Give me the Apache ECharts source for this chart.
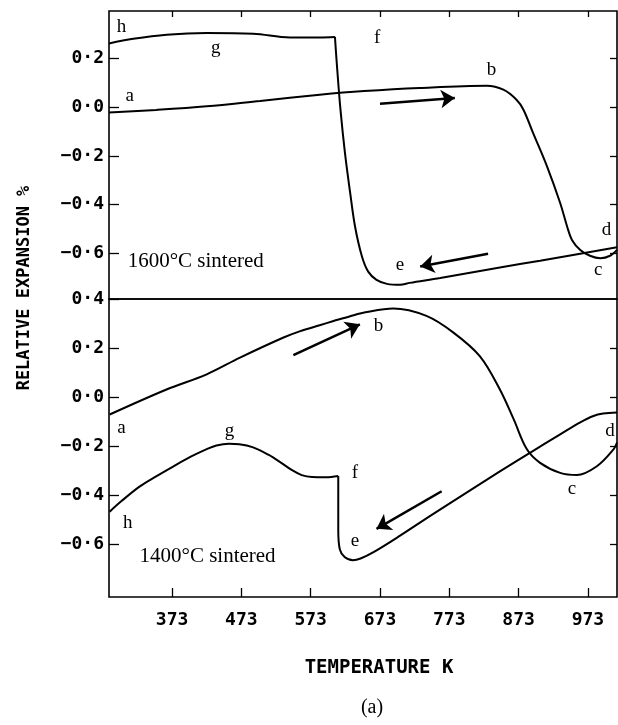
<!DOCTYPE html>
<html>
<head>
<meta charset="utf-8">
<script src="https://cdn.jsdelivr.net/npm/echarts@6/dist/echarts.min.js"></script>
<style>html,body{margin:0;padding:0;background:#fff}#c{width:618px;height:725px}</style>
</head>
<body>
<div id="c"></div>
<script>
// ---- data ----
const xTicks = [373, 473, 573, 673, 773, 873, 973];
const yTicksTop = [0.2, 0, -0.2, -0.4, -0.6];
const yTicksBottom = [0.4, 0.2, 0, -0.2, -0.4, -0.6];

// 1600 C sintered (top panel): [T (K), relative expansion %]
const top_heating = [[282,-0.023],[350,-0.012],[423,0.003],[500,0.025],[586,0.05],[650,0.065],[730,0.078],[827,0.087],[851,0.071],[870,0.030],[880,-0.011],[894,-0.107],[914,-0.243],[933,-0.393],[943,-0.489],[950,-0.544],[962,-0.585],[976,-0.609],[991,-0.619],[1005,-0.609],[1015,-0.585]];
const top_cooling1 = [[1015,-0.574],[904,-0.629],[846,-0.657],[760,-0.700],[716,-0.720],[702,-0.728],[683,-0.724],[668,-0.708],[656,-0.674],[647,-0.612],[637,-0.489],[630,-0.352],[622.5,-0.189],[616,-0.011],[611,0.166],[608,0.287]];
const top_cooling2 = [[608,0.287],[586,0.285],[543,0.285],[490,0.300],[423,0.303],[365,0.296],[317,0.279],[282,0.260]];

// 1400 C sintered (bottom panel)
const bot_heating = [[283,-0.071],[365,0.031],[423,0.093],[471,0.161],[533,0.242],[557,0.268],[586,0.293],[606,0.310],[630,0.330],[654,0.347],[692,0.361],[740,0.331],[779,0.263],[817,0.167],[846,0.031],[866,-0.091],[885,-0.213],[904,-0.268],[933,-0.309],[957,-0.318],[986,-0.282],[1010,-0.213],[1015,-0.185]];
const bot_cooling1 = [[1015,-0.063],[995,-0.067],[980,-0.078],[962,-0.103],[933,-0.152],[890,-0.226],[846,-0.303],[750,-0.476],[702,-0.565],[665,-0.630],[645,-0.658],[634,-0.665],[622,-0.652],[615,-0.620],[612.8,-0.540],[612.8,-0.322]];
const bot_cooling2 = [[612.8,-0.322],[595,-0.327],[575,-0.326],[560,-0.318],[545,-0.296],[530,-0.267],[512,-0.235],[490,-0.205],[470,-0.192],[455,-0.190],[437,-0.197],[423,-0.212],[400,-0.243],[374.5,-0.283],[350,-0.323],[326,-0.365],[300,-0.424],[283,-0.467]];

// point letters
const topLetters = [['h',300,0.329],['g',436,0.243],['f',669,0.284],['a',312,0.046],['b',834,0.153],['d',1000,-0.503],['c',988,-0.667],['e',702,-0.646]];
const botLetters = [['b',671,0.290],['a',300,-0.125],['g',456,-0.139],['h',309,-0.513],['f',637,-0.309],['e',637,-0.588],['c',950,-0.374],['d',1005,-0.139]];
const topNote = ['1600°C sintered', 309, -0.634];
const botNote = ['1400°C sintered', 326, -0.651];

// arrows [x1,y1,x2,y2] (head at end)
const topArrows = [[673,0.0135,781,0.037],[829,-0.601,731,-0.653]];
const botArrows = [[548,0.171,644,0.297],[762,-0.384,668,-0.537]];

// ---- chart ----
const chart = echarts.init(document.getElementById('c'), null, {renderer:'canvas'});
const mono = 'DejaVu Sans Mono';
const serif = 'Liberation Serif';
const fmtY = v => (v < -1e-9 ? '\u2212' : '') + '0\u00b7' + Math.round(Math.abs(v) * 10);

function lineSeries(data, xi, yi, arrows) {
  const s = {type:'line', data:data, xAxisIndex:xi, yAxisIndex:yi, showSymbol:false, smooth:0.35,
    color:'#000', lineStyle:{color:'#000', width:2}, itemStyle:{color:'#000'}, silent:true, clip:true, z:3};
  if (arrows) {
    s.markLine = {silent:true, symbol:['none','arrow'], symbolSize:14, label:{show:false},
      itemStyle:{color:'#000'},
      lineStyle:{color:'#000', width:2.5, type:'solid'},
      data: arrows.map(a => [{coord:[a[0],a[1]]},{coord:[a[2],a[3]]}])};
  }
  return s;
}
function letterSeries(letters, note, xi, yi) {
  const d = letters.map(l => ({name:l[0], value:[l[1], l[2]]}));
  d.push({name:note[0], value:[note[1], note[2]], label:{align:'left', fontSize:21}});
  return {type:'scatter', data:d, xAxisIndex:xi, yAxisIndex:yi, symbolSize:1,
    itemStyle:{color:'rgba(0,0,0,0)', opacity:1},
    silent:true, z:5,
    label:{show:true, position:'inside', formatter:p => p.name, color:'#000', opacity:1, textBorderWidth:0, fontFamily:serif, fontSize:19}
  };
}

const X0 = 282, X1 = 1015;
const tickStyle = {color:'#000', width:1.3};
const option = {
  animation:false,
  backgroundColor:'#fff',
  grid:[
    {left:109, top:11, width:508, height:288, show:true, borderColor:'#000', borderWidth:1.6, backgroundColor:'transparent'},
    {left:109, top:299, width:508, height:298, show:true, borderColor:'#000', borderWidth:1.6, backgroundColor:'transparent'}
  ],
  xAxis:[
    {type:'value', gridIndex:0, position:'bottom', min:X0, max:X1, axisLine:{show:false, onZero:false}, axisTick:{show:false}, axisLabel:{show:false}, splitLine:{show:false}},
    {type:'value', gridIndex:0, position:'top', min:X0, max:X1, axisLine:{show:false, onZero:false},
      axisTick:{show:true, inside:true, length:6, customValues:xTicks, lineStyle:tickStyle}, axisLabel:{show:false}, splitLine:{show:false}},
    {type:'value', gridIndex:1, position:'bottom', min:X0, max:X1, axisLine:{show:false, onZero:false},
      axisTick:{show:true, inside:true, length:9, customValues:xTicks, lineStyle:tickStyle},
      axisLabel:{show:true, customValues:xTicks, margin:14, color:'#000', fontFamily:mono, fontWeight:'bold', fontSize:18},
      splitLine:{show:false}}
  ],
  yAxis:[
    {type:'value', gridIndex:0, position:'left', min:-0.786, max:0.393, axisLine:{show:false, onZero:false},
      axisTick:{show:true, inside:true, length:10, customValues:yTicksTop, lineStyle:tickStyle},
      axisLabel:{show:true, customValues:yTicksTop, formatter:fmtY, margin:5, color:'#000', fontFamily:mono, fontWeight:'bold', fontSize:18},
      splitLine:{show:false}},
    {type:'value', gridIndex:0, position:'right', min:-0.786, max:0.393, axisLine:{show:false, onZero:false},
      axisTick:{show:true, inside:true, length:7, customValues:yTicksTop, lineStyle:tickStyle},
      axisLabel:{show:false}, splitLine:{show:false}},
    {type:'value', gridIndex:1, position:'left', min:-0.815, max:0.4, axisLine:{show:false, onZero:false},
      axisTick:{show:true, inside:true, length:10, customValues:yTicksBottom, lineStyle:tickStyle},
      axisLabel:{show:true, customValues:yTicksBottom, formatter:fmtY, margin:5, color:'#000', fontFamily:mono, fontWeight:'bold', fontSize:18},
      splitLine:{show:false}},
    {type:'value', gridIndex:1, position:'right', min:-0.815, max:0.4, axisLine:{show:false, onZero:false},
      axisTick:{show:true, inside:true, length:7, customValues:yTicksBottom.slice(1), lineStyle:tickStyle},
      axisLabel:{show:false}, splitLine:{show:false}}
  ],
  series:[
    lineSeries(top_heating, 0, 0, topArrows),
    lineSeries(top_cooling1, 0, 0),
    lineSeries(top_cooling2, 0, 0),
    lineSeries(bot_heating, 2, 2, botArrows),
    lineSeries(bot_cooling1, 2, 2),
    lineSeries(bot_cooling2, 2, 2),
    letterSeries(topLetters, topNote, 0, 0),
    letterSeries(botLetters, botNote, 2, 2)
  ],
  graphic:[
    {type:'text', x:25, y:288, rotation:Math.PI/2, style:{text:'RELATIVE EXPANSION %', fontFamily:mono, fontWeight:'bold', fontSize:17, fill:'#000', textAlign:'center', textVerticalAlign:'middle'}},
    {type:'text', x:379, y:668, style:{text:'TEMPERATURE K', fontFamily:mono, fontWeight:'bold', fontSize:19, fill:'#000', textAlign:'center', textVerticalAlign:'middle'}},
    {type:'text', x:372, y:708, style:{text:'(a)', fontFamily:serif, fontSize:20, fill:'#000', textAlign:'center', textVerticalAlign:'middle'}}
  ]
};
chart.setOption(option);
</script>
</body>
</html>
